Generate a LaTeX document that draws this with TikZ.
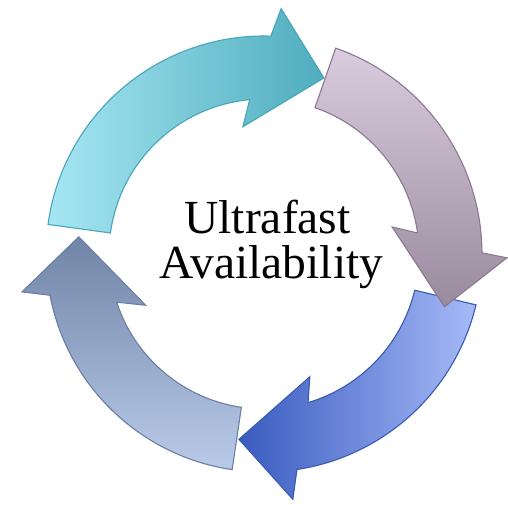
\documentclass[tikz,border=0pt]{standalone}
\usepackage{fontspec}
\setmainfont{Liberation Serif}
\usetikzlibrary{calc}
\definecolor{cyanL}{HTML}{A6E6F4}
\definecolor{cyanD}{HTML}{4FADBD}
\definecolor{cyanB}{HTML}{4AA6B6}
\definecolor{mauveL}{HTML}{DACBDE}
\definecolor{mauveD}{HTML}{998A9E}
\definecolor{mauveB}{HTML}{8A7A90}
\definecolor{blueL}{HTML}{A6BAF7}
\definecolor{blueD}{HTML}{3A5BBF}
\definecolor{blueB}{HTML}{3A5AB2}
\definecolor{slateL}{HTML}{BACBE9}
\definecolor{slateD}{HTML}{7184A7}
\definecolor{slateB}{HTML}{6A7FA2}
\begin{document}
\begin{tikzpicture}[x=1pt,y=1pt,
  arrowshape/.style={line width=1.1pt, line join=miter},
  caption/.style={font=\fontsize{47.5}{45}\selectfont, inner sep=0pt, anchor=base}]
\useasboundingbox (0,-504) rectangle (508,0);
\coordinate (C) at (264,-254);
% blue (bottom right)
\path[arrowshape, draw=blueB, left color=blueD, right color=blueL]
  ($(C)+(-13.5:218)$) arc[start angle=-13.5, end angle=-81.3, radius=218pt]
  -- ($(C)+(-83.3:247)$) -- ($(C)+(-97.7:187)$) -- ($(C)+(-69.5:131)$)
  -- ($(C)+(-73.5:155)$) arc[start angle=-73.5, end angle=-13.5, radius=155pt] -- cycle;
% slate (bottom left)
\path[arrowshape, draw=slateB, top color=slateD, bottom color=slateL]
  ($(C)+(-98.4:218)$) arc[start angle=-98.4, end angle=-169.1, radius=218pt]
  -- ($(C)+(-171.1:245)$) -- ($(C)+(-185.3:186)$) -- ($(C)+(-156.6:129)$)
  -- ($(C)+(-161.9:155)$) arc[start angle=-161.9, end angle=-98.4, radius=155pt] -- cycle;
% cyan (top left)
\path[arrowshape, draw=cyanB, left color=cyanL, middle color=cyanL, right color=cyanD]
  ($(C)+(172.2:218)$) arc[start angle=172.2, end angle=88.2, radius=218pt]
  -- ($(C)+(86.0:246)$) -- ($(C)+(71.2:186)$) -- ($(C)+(99.4:129)$)
  -- ($(C)+(95.3:155)$) arc[start angle=95.3, end angle=172.2, radius=155pt] -- cycle;
% mauve (top right)
\path[arrowshape, draw=mauveB, top color=mauveL, bottom color=mauveD]
  ($(C)+(70.8:218)$) arc[start angle=70.8, end angle=0.3, radius=218pt]
  -- ($(C)+(-0.9:243)$) -- ($(C)+(-16.3:188)$) -- ($(C)+(11.9:131)$)
  -- ($(C)+(7.8:155)$) arc[start angle=7.8, end angle=70.8, radius=155pt] -- cycle;
\node[caption] (t1) at (267.5,-233) {Ultrafast};
\node[caption] (t2) at (271.5,-278) {Availability};
\end{tikzpicture}
\end{document}
